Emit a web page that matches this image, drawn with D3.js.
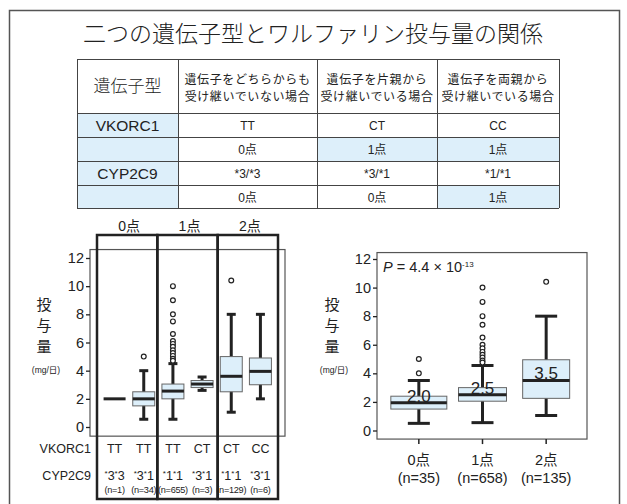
<!DOCTYPE html>
<html>
<head>
<meta charset="utf-8">
<script src="https://cdn.jsdelivr.net/npm/d3@7"></script>
<style>
  body { margin: 0; background: #fff; }
  svg text { font-family: "Liberation Sans", Arial, "Noto Sans CJK JP", sans-serif; fill: #222; }
  .jp { font-family: "Noto Sans CJK JP", sans-serif; font-weight: 400; }
  .thin { font-weight: 300; }
</style>
</head>
<body>
<div id="chart"></div>
<script>
// table data
const tableTitle = "二つの遺伝子型とワルファリン投与量の関係";
const tableHead = ["遺伝子型", "遺伝子をどちらからも|受け継いでいない場合", "遺伝子を片親から|受け継いでいる場合", "遺伝子を両親から|受け継いでいる場合"];
const geneNames = ["VKORC1", "", "CYP2C9", ""];
const vkorcGeno = ["TT", "CT", "CC"];
const vkorcPts = ["0点", "1点", "1点"];
const cypGeno = ["*3/*3", "*3/*1", "*1/*1"];
const cypPts = ["0点", "0点", "1点"];

// left plot: per genotype combination [low, q1, median, q3, high]
const leftGroups = ["0点", "1点", "2点"];
const leftVk = ["TT", "TT", "TT", "CT", "CT", "CC"];
const leftCyp = ["*3*3", "*3*1", "*1*1", "*3*1", "*1*1", "*3*1"];
const leftN = [1, 34, 655, 3, 129, 6];
const leftStats = [
  [2.0, 2.0, 2.0, 2.0, 2.0],
  [0.55, 1.5, 2.0, 2.5, 4.0],
  [0.55, 2.0, 2.55, 3.05, 4.5],
  [2.6, 2.8, 3.05, 3.3, 3.55],
  [1.05, 2.5, 3.6, 5.0, 8.0],
  [2.0, 3.0, 3.95, 4.9, 8.0]
];
const leftOutliers = [
  [],
  [5.0],
  [10, 9, 8, 7.5, 6.6, 6.1, 5.9, 5.7, 5.45, 5.25, 5.05, 4.85, 4.7],
  [],
  [10.4],
  []
];

// right plot: per score
const rightCats = ["0点", "1点", "2点"];
const rightN = [35, 658, 135];
const rightStats = [
  [0.5, 1.5, 1.95, 2.4, 3.5],
  [0.55, 2.05, 2.5, 3.0, 4.55],
  [1.05, 2.25, 3.5, 4.95, 8.0]
];
const rightMedLabel = ["2.0", "2.5", "3.5"];
const rightOutliers = [
  [4.0, 5.0],
  [10, 9, 8, 7.4, 6.5, 6.0, 5.75, 5.5, 5.3, 5.1, 4.9, 4.75],
  [10.4]
];
const yTicks = [0, 2, 4, 6, 8, 10, 12];

const W = 627, H = 504;
const boxFill = "#ddeffa", ink = "#222";

const svg = d3.select("#chart").append("svg").attr("width", W).attr("height", H);

// outer frame
svg.append("rect").attr("x", 9.5).attr("y", 10.5).attr("width", 610).attr("height", 520)
  .attr("fill", "none").attr("stroke", "#555").attr("stroke-width", 1.5);

svg.append("text").attr("class", "jp thin").attr("x", 313).attr("y", 42)
  .attr("text-anchor", "middle").attr("font-size", 23).text(tableTitle);

// ---- table ----
const colX = [77, 178, 317, 437, 559];
const rowY = [59, 113, 137, 161, 185, 208];
const tbl = svg.append("g");
const cellText = [vkorcGeno, vkorcPts, cypGeno, cypPts];
cellText.forEach((row, r) => {
  const y0 = rowY[r + 1], y1 = rowY[r + 2];
  // gene column
  tbl.append("rect").attr("x", colX[0]).attr("y", y0).attr("width", colX[1] - colX[0]).attr("height", y1 - y0)
    .attr("fill", boxFill);
  tbl.append("text").attr("x", (colX[0] + colX[1]) / 2).attr("y", y0 + 17.5)
    .attr("text-anchor", "middle").attr("font-size", 15.5).text(geneNames[r]);
  row.forEach((t, c) => {
    const hl = t === "1点";
    if (hl) tbl.append("rect").attr("x", colX[c + 1]).attr("y", y0).attr("width", colX[c + 2] - colX[c + 1])
      .attr("height", y1 - y0).attr("fill", boxFill);
    tbl.append("text").attr("x", (colX[c + 1] + colX[c + 2]) / 2).attr("y", y0 + 16.5)
      .attr("text-anchor", "middle").attr("font-size", 12).text(t);
  });
});
tbl.append("text").attr("class", "jp thin").attr("x", (colX[0] + colX[1]) / 2).attr("y", 92)
  .attr("text-anchor", "middle").attr("font-size", 17).text(tableHead[0]);
tableHead.slice(1).forEach((h, i) => {
  const lines = h.split("|");
  lines.forEach((ln, j) => {
    tbl.append("text").attr("class", "jp").attr("x", (colX[i + 1] + colX[i + 2]) / 2).attr("y", 84 + j * 17)
      .attr("text-anchor", "middle").attr("font-size", 12).attr("letter-spacing", 0.6).text(ln);
  });
});
rowY.forEach(y => tbl.append("line").attr("x1", colX[0]).attr("x2", colX[4]).attr("y1", y + 0.5).attr("y2", y + 0.5)
  .attr("stroke", "#444"));
colX.forEach(x => tbl.append("line").attr("x1", x + 0.5).attr("x2", x + 0.5).attr("y1", rowY[0]).attr("y2", rowY[5])
  .attr("stroke", "#444"));

// ---- helpers ----
function drawBox(g, cx, st, y, bw, capW, outs) {
  const [lo, q1, med, q3, hi] = st;
  if (q1 === q3) {
    g.append("line").attr("x1", cx - bw / 2).attr("x2", cx + bw / 2).attr("y1", y(med)).attr("y2", y(med))
      .attr("stroke", ink).attr("stroke-width", 3);
    return;
  }
  g.append("line").attr("x1", cx).attr("x2", cx).attr("y1", y(hi)).attr("y2", y(lo))
    .attr("stroke", ink).attr("stroke-width", 3);
  [lo, hi].forEach(v => g.append("line").attr("x1", cx - capW / 2).attr("x2", cx + capW / 2)
    .attr("y1", y(v)).attr("y2", y(v)).attr("stroke", ink).attr("stroke-width", 3));
  g.append("rect").attr("x", cx - bw / 2).attr("y", y(q3)).attr("width", bw).attr("height", y(q1) - y(q3))
    .attr("fill", boxFill).attr("stroke", "#666").attr("stroke-width", 1);
  g.append("line").attr("x1", cx - bw / 2).attr("x2", cx + bw / 2).attr("y1", y(med)).attr("y2", y(med))
    .attr("stroke", ink).attr("stroke-width", 3);
  outs.forEach(v => g.append("circle").attr("cx", cx).attr("cy", y(v)).attr("r", 2.4)
    .attr("fill", "#fff").attr("stroke", ink).attr("stroke-width", 1.2));
}

function yAxis(g, y, x0) {
  const ax = g.append("g").attr("transform", `translate(${x0},0)`)
    .call(d3.axisLeft(y).tickValues(yTicks).tickSize(4).tickPadding(2));
  ax.select(".domain").remove();
  ax.selectAll("line").attr("stroke", ink).attr("stroke-width", 1.3);
  ax.selectAll("text").attr("font-size", 14.5).attr("fill", ink)
    .style("font-family", "Liberation Sans, Arial, sans-serif");
}

function yLabel(g, x) {
  ["投", "与", "量"].forEach((ch, i) => g.append("text").attr("class", "jp").attr("x", x).attr("y", 310 + i * 21)
    .attr("text-anchor", "middle").attr("font-size", 15).text(ch));
  g.append("text").attr("x", x + 2).attr("y", 373).attr("text-anchor", "middle").attr("font-size", 8.5).text("(mg/日)");
}

// ---- left plot ----
const gl = svg.append("g");
const yL = d3.scaleLinear().domain([0, 12]).range([427, 258]);
const xL = d3.scaleBand().domain(d3.range(leftVk.length)).range([100, 275]);
const xG = d3.scaleBand().domain(leftGroups).range([97, 278]);

gl.append("rect").attr("x", 90).attr("y", yL(12.6)).attr("width", 195).attr("height", yL(-0.65) - yL(12.6))
  .attr("fill", "none").attr("stroke", "#555").attr("stroke-width", 1.2);
yAxis(gl, yL, 90);
yLabel(gl, 44);

leftStats.forEach((st, i) => {
  const cx = xL(i) + xL.bandwidth() / 2;
  drawBox(gl, cx, st, yL, 22, 9, leftOutliers[i]);
  gl.append("text").attr("x", cx).attr("y", 453).attr("text-anchor", "middle").attr("font-size", 12.5).text(leftVk[i]);
  const t = gl.append("text").attr("x", cx).attr("y", 480).attr("text-anchor", "middle").attr("font-size", 12.5);
  leftCyp[i].split("").forEach(ch => {
    if (ch === "*") t.append("tspan").attr("font-size", 8).attr("dy", -4).text("*");
    else t.append("tspan").attr("dy", 4).text(ch);
  });
  gl.append("text").attr("x", cx).attr("y", 493).attr("text-anchor", "middle").attr("font-size", 9.2)
    .attr("letter-spacing", -0.3).text(`(n=${leftN[i]})`);
});

leftGroups.forEach(gname => {
  gl.append("rect").attr("x", xG(gname)).attr("y", 235).attr("width", xG.bandwidth()).attr("height", 264)
    .attr("fill", "none").attr("stroke", ink).attr("stroke-width", 2.5);
  gl.append("text").attr("x", xG(gname) + xG.bandwidth() / 2 + 2).attr("y", 231).attr("text-anchor", "middle")
    .attr("font-size", 14).text(gname);
});
gl.append("text").attr("x", 91).attr("y", 453).attr("text-anchor", "end").attr("font-size", 12.5).text("VKORC1");
gl.append("text").attr("x", 91).attr("y", 480).attr("text-anchor", "end").attr("font-size", 12.5).text("CYP2C9");

// ---- right plot ----
const gr = svg.append("g");
const yR = d3.scaleLinear().domain([0, 12]).range([430.5, 259]);
const xR = d3.scaleBand().domain(rightCats).range([387, 578]);
const rightW = [56, 48, 47];

gr.append("rect").attr("x", 377).attr("y", yR(12.45)).attr("width", 210).attr("height", yR(-0.6) - yR(12.45))
  .attr("fill", "none").attr("stroke", "#555").attr("stroke-width", 1.2);
yAxis(gr, yR, 377);
yLabel(gr, 332);

rightCats.forEach((c, i) => {
  const cx = xR(c) + xR.bandwidth() / 2;
  drawBox(gr, cx, rightStats[i], yR, rightW[i], 22, rightOutliers[i]);
  gr.append("text").attr("x", cx).attr("y", yR(rightStats[i][2]) - 1).attr("text-anchor", "middle")
    .attr("font-size", 17).attr("fill", "#333").text(rightMedLabel[i]);
  gr.append("line").attr("x1", cx).attr("x2", cx).attr("y1", yR(-0.6)).attr("y2", yR(-0.6) + 5)
    .attr("stroke", ink).attr("stroke-width", 1.5);
  gr.append("text").attr("x", cx).attr("y", 465).attr("text-anchor", "middle").attr("font-size", 14.5).text(c);
  gr.append("text").attr("x", cx).attr("y", 483).attr("text-anchor", "middle").attr("font-size", 14.5).text(`(n=${rightN[i]})`);
});

const pt = gr.append("text").attr("x", 383).attr("y", 272).attr("font-size", 14.5);
pt.append("tspan").attr("font-style", "italic").text("P");
pt.append("tspan").text(" = 4.4 × 10");
pt.append("tspan").attr("font-size", 8).attr("dy", -5).text("-13");
</script>
</body>
</html>
